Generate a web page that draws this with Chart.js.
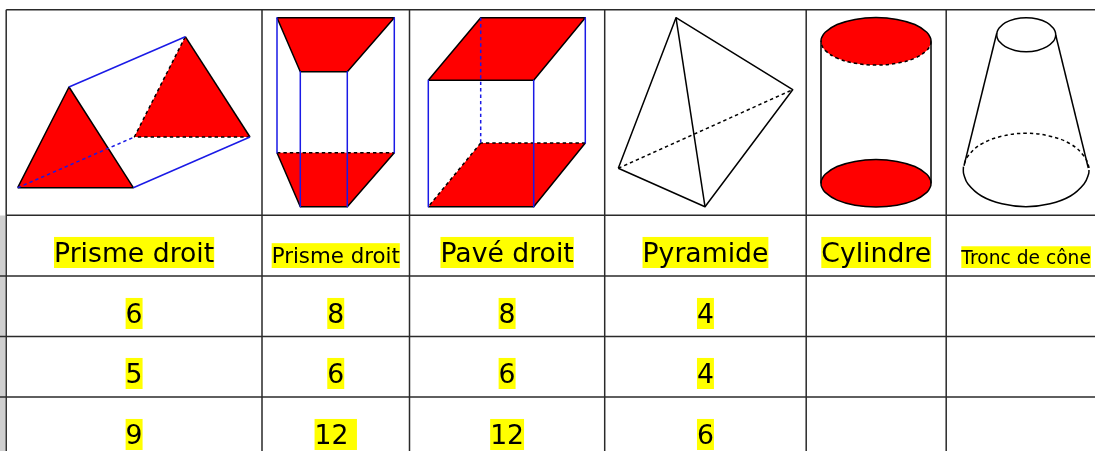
<!DOCTYPE html>
<html lang="fr">
<head>
<meta charset="utf-8">
<title>Solides</title>
<script src="https://cdn.jsdelivr.net/npm/chart.js@4"></script>
<style>
  html, body { margin: 0; padding: 0; background: #fff; overflow: hidden; }
  canvas { display: block; }
</style>
</head>
<body>
<canvas id="chart" width="1095" height="451"></canvas>
<script>
// ================== DATA ==================
const headers = ['Prisme droit', 'Prisme droit', 'Pavé droit', 'Pyramide', 'Cylindre', 'Tronc de cône'];
const rowFaces = ['6', '8', '8', '4', '', ''];
const rowVertices = ['5', '6', '6', '4', '', ''];
const rowEdgeCounts = ['9', '12 ', '12', '6', '', ''];

// table rules, in picture units
const colEdges = [6.2, 262, 409.5, 604.7, 806.2, 946.2];
const rowEdges = [9.7, 215.2, 276, 336.5, 397];

// triangular prism
const triFront = [[17.7, 187.7], [69, 87], [133.3, 187.7], [17.7, 187.7]];
const triBack = [[134.3, 137], [185.3, 36.7], [250, 137], [134.3, 137]];
// trapezoid prism
const trapTop = [[277, 17.7], [394.3, 17.7], [347.3, 71.7], [300.3, 71.7], [277, 17.7]];
const trapLow = [[277, 152.7], [394.3, 152.7], [347.3, 206.7], [300.3, 206.7], [277, 152.7]];
// box
const boxTop = [[428.3, 80.3], [533.7, 80.3], [585.3, 17.7], [480.7, 17.7], [428.3, 80.3]];
const boxLow = [[428.3, 206.7], [533.7, 206.7], [585.3, 143], [480.7, 143], [428.3, 206.7]];
// cylinder ellipses, read as half outlines
const cylTopUp = [[821, 41.3], [821.4, 38.3], [825.2, 32.2], [837.1, 24.5], [855, 19.4], [876, 17.6], [897, 19.4], [914.9, 24.5], [926.8, 32.2], [930.6, 38.3], [931, 41.3]];
const cylTopDown = [[931, 41.3], [930.6, 44.3], [926.8, 50.4], [914.9, 58.1], [897, 63.2], [876, 65], [855, 63.2], [837.1, 58.1], [825.2, 50.4], [821.4, 44.3], [821, 41.3]];
const cylLowUp = [[821, 183.3], [821.4, 180.3], [825.2, 174.2], [837.1, 166.5], [855, 161.4], [876, 159.6], [897, 161.4], [914.9, 166.5], [926.8, 174.2], [930.6, 180.3], [931, 183.3]];
const cylLowDown = [[931, 183.3], [930.6, 186.3], [926.8, 192.4], [914.9, 200.1], [897, 205.2], [876, 207], [855, 205.2], [837.1, 200.1], [825.2, 192.4], [821.4, 186.3], [821, 183.3]];
// truncated cone ellipses
const coneTop = [[996.7, 34.7], [997.2, 31.7], [999, 28.2], [1005.3, 22.7], [1015, 19], [1026.2, 17.7], [1037.4, 19], [1047, 22.7], [1053.4, 28.2], [1055.2, 31.7], [1055.7, 34.7], [1055.2, 37.7], [1053.4, 41.2], [1047, 46.7], [1037.4, 50.4], [1026.2, 51.7], [1015, 50.4], [1005.3, 46.7], [999, 41.2], [997.2, 37.7], [996.7, 34.7]];
const coneLowBack = [[963.3, 170], [963.7, 166], [968, 156], [981.5, 144], [1002, 136.2], [1026, 133.3], [1050, 136.2], [1070.5, 144], [1084, 156], [1088.6, 166], [1089, 170]];
const coneLowFront = [[1089, 170], [1088.6, 174], [1084, 184], [1070.5, 196], [1050, 203.8], [1026, 206.7], [1002, 203.8], [981.5, 196], [968, 184], [963.7, 174], [963.3, 170]];

// ================== STYLES ==================
const RED = '#ff0000', BLACK = '#000000', BLUE = '#1a1ae6', RULE = '#2a2a2a';
const DASH = [3.4, 3];
const datasets = [];

function path(points, color, dashed) {
  datasets.push({
    data: points.map(([x, y]) => ({ x, y })), showLine: true, fill: false, tension: points.length > 6 ? 0.4 : 0,
    borderColor: color, borderWidth: 1.5, borderDash: dashed ? DASH : [], pointRadius: 0, borderJoinStyle: 'round', clip: false
  });
}
function face(points, color) {
  datasets.push({
    data: points.map(([x, y]) => ({ x, y })), showLine: true, fill: 'shape', tension: points.length > 6 ? 0.4 : 0,
    backgroundColor: color, borderColor: color, borderWidth: 0, pointRadius: 0, clip: false
  });
}
function rule(a, b) {
  datasets.push({
    data: [{ x: a[0], y: a[1] }, { x: b[0], y: b[1] }], showLine: true, fill: false,
    borderColor: RULE, borderWidth: 1.5, pointRadius: 0, clip: false
  });
}

// ================== BUILD (later = on top) ==================
face([[0, 215.5], [5, 215.5], [5, 451], [0, 451], [0, 215.5]], '#cfcfcf');
colEdges.forEach(x => rule([x, rowEdges[0]], [x, 451]));
rowEdges.forEach((y, i) => rule([i === 0 || i === 1 ? colEdges[0] : 0, y], [1095, y]));

[triFront, triBack, trapTop, trapLow, boxTop, boxLow].forEach(p => face(p, RED));
face(cylTopUp.concat(cylTopDown.slice(1)), RED);
face(cylLowUp.concat(cylLowDown.slice(1)), RED);

// triangular prism
path(triFront, BLACK);
path([triBack[0], triBack[1]], BLACK, true);
path([triBack[1], triBack[2]], BLACK);
path([triBack[2], triBack[0]], BLACK, true);
path([triFront[1], triBack[1]], BLUE);
path([triFront[2], triBack[2]], BLUE);
path([triFront[0], triBack[0]], BLUE, true);

// trapezoid prism
path(trapTop, BLACK);
path([trapLow[1], trapLow[2], trapLow[3], trapLow[0]], BLACK);
path([trapLow[0], trapLow[1]], BLACK, true);
trapTop.slice(0, 4).forEach((p, i) => path([p, trapLow[i]], BLUE));

// box
path(boxTop, BLACK);
path([boxLow[3], boxLow[0]], BLACK, true);
path([boxLow[0], boxLow[1], boxLow[2]], BLACK);
path([boxLow[2], boxLow[3]], BLACK, true);
path([boxTop[0], boxLow[0]], BLUE);
path([boxTop[1], boxLow[1]], BLUE);
path([boxTop[2], boxLow[2]], BLUE);
path([boxTop[3], boxLow[3]], BLUE, true);

// pyramid
const pyrApex = [676, 17.7], pyrRight = [792.7, 89.7], pyrLeft = [618.3, 168.3], pyrFoot = [705, 206.7];
path([pyrLeft, pyrApex, pyrRight, pyrFoot, pyrLeft], BLACK);
path([pyrApex, pyrFoot], BLACK);
path([pyrLeft, pyrRight], BLACK, true);

// cylinder
path(cylTopUp, BLACK);
path(cylTopDown, BLACK, true);
path(cylLowUp, BLACK);
path(cylLowDown, BLACK);
path([[821, 41.3], [821, 183.3]], BLACK);
path([[931, 41.3], [931, 183.3]], BLACK);

// truncated cone
path(coneTop, BLACK);
path(coneLowBack, BLACK, true);
path(coneLowFront, BLACK);
path([[996.7, 33.3], [964, 165.7]], BLACK);
path([[1055.7, 35], [1088.3, 168]], BLACK);

datasets.forEach((d, i) => { d.order = datasets.length - i; });

// ================== TABLE TEXT ==================
const FONT = '"DejaVu Sans"';
const BIG = 26.67;
const headerSizes = [BIG, 21.33, BIG, BIG, BIG, 18.67];
const textRows = [
  { cells: headers, bottom: 268, sizes: headerSizes },
  { cells: rowFaces, bottom: 329 },
  { cells: rowVertices, bottom: 389 },
  { cells: rowEdgeCounts, bottom: 450 }
];

const tableText = {
  id: 'tableText',
  afterDatasetsDraw(chart) {
    const { ctx, scales: { x, y } } = chart;
    const edges = colEdges.concat([1106]);
    ctx.save();
    ctx.textAlign = 'left';
    ctx.textBaseline = 'alphabetic';
    textRows.forEach(row => {
      row.cells.forEach((txt, i) => {
        if (!txt) return;
        const size = row.sizes ? row.sizes[i] : BIG;
        ctx.font = `${size}px ${FONT}`;
        const w = ctx.measureText(txt).width;
        const cx = x.getPixelForValue((edges[i] + edges[i + 1]) / 2);
        const bottom = y.getPixelForValue(row.bottom);
        ctx.fillStyle = '#ffff00';
        ctx.fillRect(cx - w / 2, bottom - size * 1.164, w, size * 1.164);
        ctx.fillStyle = '#000';
        ctx.fillText(txt, cx - w / 2, bottom - size * 0.236);
      });
    });
    ctx.restore();
  }
};

// ================== CHART ==================
new Chart(document.getElementById('chart'), {
  type: 'scatter',
  data: { datasets },
  plugins: [tableText],
  options: {
    responsive: false, animation: false, devicePixelRatio: 1,
    layout: { padding: 0 },
    plugins: { legend: { display: false }, tooltip: { enabled: false }, title: { display: false } },
    scales: {
      x: { type: 'linear', min: 0, max: 1095, display: false },
      y: { type: 'linear', min: 0, max: 451, reverse: true, display: false }
    }
  }
});
</script>
</body>
</html>
